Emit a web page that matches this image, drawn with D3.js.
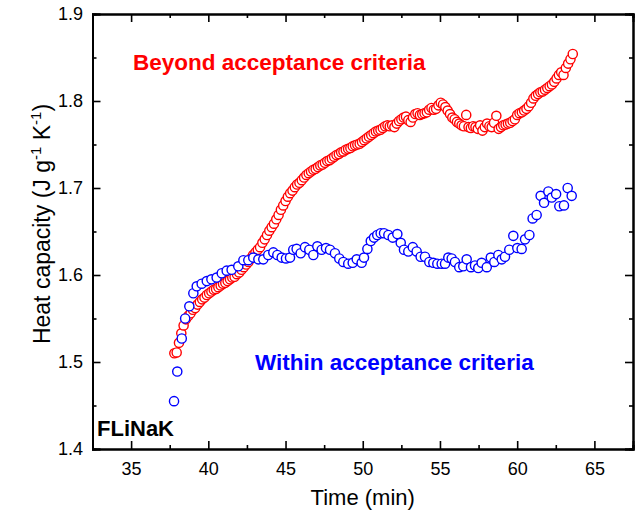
<!DOCTYPE html>
<html>
<head>
<meta charset="utf-8">
<script src="https://cdn.jsdelivr.net/npm/d3@7"></script>
<style>
  body { margin: 0; background: #fff; }
  svg { font-family: Arial, "Liberation Sans", sans-serif; }
  .axis path, .axis line { stroke: #000; }
  .axis text { font-size: 18px; fill: #000; }
</style>
</head>
<body>
<svg id="chart" width="641" height="513"></svg>
<script>
const svg = d3.select("#chart");

// red series: sampled every 0.15 min from 37.8 min
const redStart = 37.8;
const redStep = 0.15;
const redCp = [
  1.510, 1.511, 1.522, 1.533, 1.542, 1.549, 1.553, 1.556, 1.560, 1.562,
  1.566, 1.569, 1.572, 1.574, 1.577, 1.579, 1.581, 1.583, 1.584, 1.586,
  1.588, 1.590, 1.591, 1.593, 1.595, 1.597, 1.598, 1.601, 1.603, 1.606,
  1.609, 1.612, 1.615, 1.619, 1.623, 1.626, 1.629, 1.632, 1.637, 1.641,
  1.646, 1.651, 1.655, 1.659, 1.664, 1.669, 1.675, 1.680, 1.685, 1.690,
  1.694, 1.697, 1.701, 1.704, 1.706, 1.709, 1.712, 1.715, 1.717, 1.719,
  1.721, 1.722, 1.724, 1.726, 1.727, 1.729, 1.731, 1.732, 1.734, 1.736,
  1.738, 1.739, 1.741, 1.742, 1.744, 1.745, 1.746, 1.748, 1.749, 1.750,
  1.751, 1.753, 1.755, 1.757, 1.759, 1.761, 1.763, 1.765, 1.766, 1.767,
  1.769, 1.771, 1.772, 1.771, 1.772, 1.770, 1.774, 1.777, 1.779, 1.781,
  1.782, 1.778, 1.776, 1.781, 1.785, 1.786, 1.784, 1.785, 1.786, 1.787,
  1.790, 1.792, 1.790, 1.791, 1.795, 1.798, 1.796, 1.793, 1.789, 1.785,
  1.781, 1.779, 1.776, 1.774, 1.772, 1.771, 1.784, 1.770, 1.769, 1.771,
  1.770, 1.768, 1.772, 1.766, 1.770, 1.774, 1.771, 1.770, 1.775, 1.783,
  1.768, 1.770, 1.772, 1.773, 1.774, 1.775, 1.777, 1.779, 1.784, 1.786,
  1.787, 1.789, 1.791, 1.794, 1.798, 1.803, 1.806, 1.808, 1.810, 1.811,
  1.813, 1.815, 1.817, 1.819, 1.822, 1.826, 1.830, 1.833, 1.830, 1.838,
  1.843, 1.848, 1.854
];

// blue series
const blueTime = [
  37.78, 37.99, 38.28, 38.50, 38.77, 39.03, 39.25, 39.57, 39.90, 40.20,
  40.54, 40.87, 41.19, 41.51, 41.94, 42.27, 42.59, 42.91, 43.24, 43.56,
  43.88, 44.21, 44.47, 44.75, 45.03, 45.29, 45.50, 45.72, 45.98, 46.26,
  46.54, 46.80, 47.06, 47.34, 47.62, 47.88, 48.20, 48.48, 48.74, 49.06,
  49.35, 49.61, 49.93, 50.08, 50.30, 50.52, 50.73, 50.94, 51.16, 51.38,
  51.66, 51.94, 52.24, 52.46, 52.67, 52.95, 53.24, 53.49, 53.75, 54.03,
  54.31, 54.57, 54.83, 55.11, 55.33, 55.54, 55.76, 55.97, 56.25, 56.51,
  56.73, 57.01, 57.27, 57.48, 57.70, 58.03, 58.29, 58.52, 58.78, 59.00,
  59.21, 59.49, 59.75, 60.01, 60.29, 60.51, 60.79, 61.00, 61.26, 61.52,
  61.74, 62.02, 62.24, 62.52, 62.73, 63.03, 63.27, 63.53
];
const blueCp = [
  1.455, 1.489, 1.527, 1.550, 1.564, 1.579, 1.587, 1.590, 1.593, 1.595,
  1.597, 1.602, 1.605, 1.606, 1.610, 1.617, 1.617, 1.620, 1.618, 1.618,
  1.623, 1.626, 1.623, 1.620, 1.619, 1.620, 1.629, 1.630, 1.625, 1.632,
  1.629, 1.623, 1.633, 1.629, 1.631, 1.629, 1.625, 1.619, 1.615, 1.613,
  1.614, 1.618, 1.614, 1.620, 1.630, 1.639, 1.643, 1.646, 1.648, 1.648,
  1.646, 1.643, 1.647, 1.637, 1.629, 1.627, 1.632, 1.627, 1.621, 1.621,
  1.615, 1.614, 1.613, 1.613, 1.613, 1.620, 1.619, 1.615, 1.609, 1.610,
  1.618, 1.609, 1.611, 1.608, 1.614, 1.609, 1.620, 1.615, 1.623, 1.618,
  1.621, 1.629, 1.645, 1.631, 1.630, 1.641, 1.646, 1.665, 1.669, 1.691,
  1.683, 1.696, 1.689, 1.693, 1.679, 1.680, 1.700, 1.691
];

const xMajor = [35, 40, 45, 50, 55, 60, 65];
const xMinor = [32.5, 37.5, 42.5, 47.5, 52.5, 57.5, 62.5, 67.5];
const yMajor = [1.4, 1.5, 1.6, 1.7, 1.8, 1.9];
const yMinor = [1.45, 1.55, 1.65, 1.75, 1.85];

const plot = { left: 92.5, right: 633, top: 14, bottom: 449 };

const x = d3.scaleLinear().domain([32.5, 67.5]).range([plot.left, plot.right]);
const y = d3.scaleLinear().domain([1.4, 1.9]).range([plot.bottom, plot.top]);

const red = redCp.map((v, i) => ({ t: redStart + i * redStep, v: v }));
const blue = blueTime.map((t, i) => ({ t: t, v: blueCp[i] }));

// axes, ticks pointing inward on all four sides
function drawAxis(axisFn, pos, vals, size, pad) {
    const g = svg.append("g")
        .attr("class", "axis")
        .attr("transform", pos)
        .call(axisFn
            .tickValues(vals)
            .tickSize(size)
            .tickPadding(pad || 0)
            .tickFormat(pad ? d3.format(".1f") : ""));
    g.selectAll("line").attr("stroke-width", 1.6);
    g.select(".domain").attr("stroke-width", 2);
    return g;
}

drawAxis(d3.axisBottom(x), `translate(0,${plot.bottom})`, xMajor, -8, 13)
    .selectAll("text").text(d => d);
drawAxis(d3.axisBottom(x), `translate(0,${plot.bottom})`, xMinor, -4);
drawAxis(d3.axisTop(x), `translate(0,${plot.top})`, xMajor, -8);
drawAxis(d3.axisTop(x), `translate(0,${plot.top})`, xMinor, -4);
drawAxis(d3.axisLeft(y), `translate(${plot.left},0)`, yMajor, -8, 9.5);
drawAxis(d3.axisLeft(y), `translate(${plot.left},0)`, yMinor, -4);
drawAxis(d3.axisRight(y), `translate(${plot.right},0)`, yMajor, -8);
drawAxis(d3.axisRight(y), `translate(${plot.right},0)`, yMinor, -4);

// markers
svg.append("g").selectAll("circle")
    .data(red)
    .join("circle")
    .attr("cx", d => x(d.t))
    .attr("cy", d => y(d.v))
    .attr("r", 4.6)
    .attr("fill", "#fff")
    .attr("stroke", "#ff0000")
    .attr("stroke-width", 1.4);

svg.append("g").selectAll("circle")
    .data(blue)
    .join("circle")
    .attr("cx", d => x(d.t))
    .attr("cy", d => y(d.v))
    .attr("r", 4.6)
    .attr("fill", "#fff")
    .attr("stroke", "#0000ff")
    .attr("stroke-width", 1.4);

// annotations
svg.append("text")
    .attr("x", 133).attr("y", 70)
    .attr("fill", "#ff0000")
    .style("font-size", "22.5px").style("font-weight", "bold")
    .text("Beyond acceptance criteria");

svg.append("text")
    .attr("x", 255).attr("y", 370)
    .attr("fill", "#0000ff")
    .style("font-size", "22.5px").style("font-weight", "bold")
    .text("Within acceptance criteria");

svg.append("text")
    .attr("x", 97).attr("y", 436)
    .attr("fill", "#000")
    .style("font-size", "22px").style("font-weight", "bold")
    .text("FLiNaK");

// axis titles
svg.append("text")
    .attr("x", (plot.left + plot.right) / 2).attr("y", 505)
    .attr("text-anchor", "middle")
    .style("font-size", "22px")
    .text("Time (min)");

const yTitle = svg.append("text")
    .attr("transform", `translate(50,224) rotate(-90)`)
    .attr("text-anchor", "middle")
    .style("font-size", "23px");
yTitle.append("tspan").text("Heat capacity (J g");
yTitle.append("tspan").attr("dy", -9).style("font-size", "15px").text("-1");
yTitle.append("tspan").attr("dy", 9).text(" K");
yTitle.append("tspan").attr("dy", -9).style("font-size", "15px").text("-1");
yTitle.append("tspan").attr("dy", 9).text(")");
</script>
</body>
</html>
